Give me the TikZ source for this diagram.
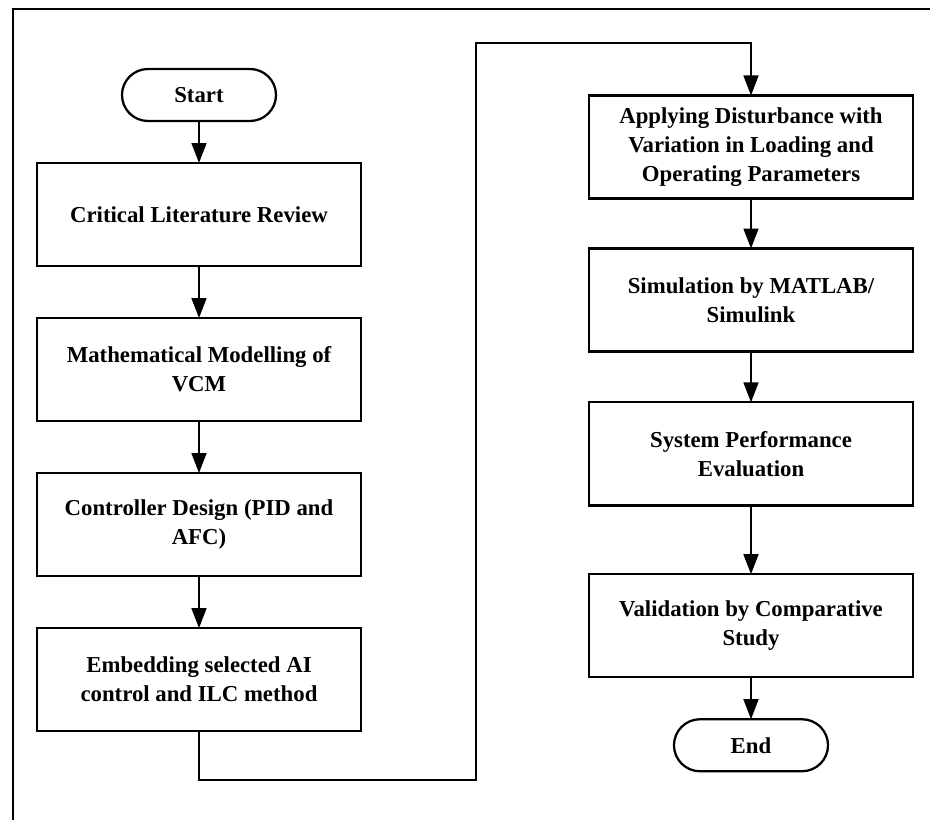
\documentclass[tikz,border=0pt]{standalone}
\usepackage{fontspec}
\setmainfont{Liberation Serif}
\usepackage{tikz}
\usetikzlibrary{arrows.meta,positioning}
\tikzset{
  box/.style={draw=black,fill=white,line width=1.6pt,outer sep=0pt,minimum width=8.1cm,minimum height=2.575cm,align=center,font=\bfseries\fontsize{16.2}{20.6}\selectfont},
  term/.style={draw=black,fill=white,line width=1.6pt,outer sep=0pt,rounded corners=0.65cm,minimum width=3.85cm,minimum height=1.3cm,align=center,font=\bfseries\fontsize{16.2}{20.6}\selectfont},
  arr/.style={-{Triangle[length=5mm,width=3.7mm]},draw=black,line width=1.6pt},
  frame/.style={draw=black,line width=1.1pt}
}

\begin{document}
\begin{tikzpicture}[x=0.025cm,y=-0.025cm]
  \useasboundingbox (0,0) rectangle (930,820);
  \draw[frame] (13,820) -- (13,9) -- (930,9);

  % left column
  \node[term] (start) at (199,95) {Start};
  \node[box,below=1.05cm of start] (review) {Critical Literature Review};
  \node[box,below=1.3cm of review] (model) {Mathematical Modelling of\\VCM};
  \node[box,below=1.3cm of model] (design) {Controller Design (PID and\\AFC)};
  \node[box,below=1.3cm of design] (embed) {Embedding selected AI\\control and ILC method};

  % right column
  \node[box] (disturb) at (751,147) {Applying Disturbance with\\Variation in Loading and\\Operating Parameters};
  \node[box,below=1.25cm of disturb] (simul) {Simulation by MATLAB/\\Simulink};
  \node[box,below=1.27cm of simul] (perf) {System Performance\\Evaluation};
  \node[box,below=1.72cm of perf] (valid) {Validation by Comparative\\Study};
  \node[term,below=1.05cm of valid] (stop) {End};

  \draw[arr] (start) -- (review);
  \draw[arr] (review) -- (model);
  \draw[arr] (model) -- (design);
  \draw[arr] (design) -- (embed);

  % jump to the second column
  \coordinate (low) at (476,780);
  \coordinate (high) at (476,43);
  \draw[arr] (embed.south) |- (low) -- (high) -| (disturb.north);

  \draw[arr] (disturb) -- (simul);
  \draw[arr] (simul) -- (perf);
  \draw[arr] (perf) -- (valid);
  \draw[arr] (valid) -- (stop);
\end{tikzpicture}
\end{document}
